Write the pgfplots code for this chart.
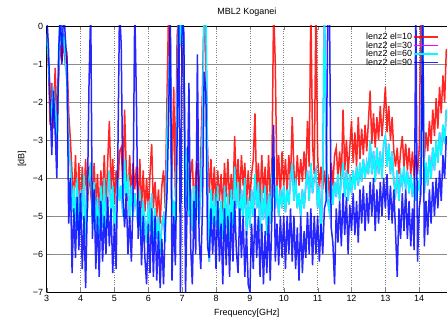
\documentclass[border=0pt]{standalone}
\usepackage{fontspec}
\setmainfont{Liberation Sans}
\usepackage{pgfplots}
\usepackage{pgfplotstable}
\pgfplotsset{compat=1.18}
\usetikzlibrary{calc}
\definecolor{gred}{rgb}{1,0,0}
\definecolor{gmag}{rgb}{1,0,1}
\definecolor{gcyan}{rgb}{0,1,1}
\definecolor{gblue}{rgb}{0,0,1}

\pgfplotstableread{
x r c b
3.00 -0.6 -0.2 0.3
3.05 -1.0 -0.9 -0.5
3.10 -2.6 -1.8 -2.0
3.15 -1.5 -2.5 -3.4
3.20 -2.7 -1.6 -1.7
3.25 -1.1 -2.2 -2.8
3.30 -2.5 -3.0 -4.0
3.35 -1.4 -1.2 -0.8
3.40 -0.5 0.3 0.5
3.45 -0.9 -0.6 -1.0
3.50 -0.4 -0.2 0.5
3.55 -1.0 -0.8 -0.3
3.60 -0.8 -1.5 -1.0
3.65 -2.3 -3.3 -5.2
3.70 -3.0 -3.6 -4.0
3.75 -3.9 -4.9 -6.5
3.80 -4.6 -4.2 -4.8
3.85 -3.4 -5.3 -6.1
3.90 -4.8 -4.0 -4.5
3.95 -3.6 -5.5 -5.9
4.00 -5.0 -4.3 -4.4
4.05 -3.7 -5.1 -6.4
4.10 -4.5 -3.9 -5.0
4.15 -3.5 -5.6 -6.9
4.20 -4.9 -4.4 -4.7
4.25 -3.7 -4.0 -1.5
4.30 -4.4 -3.6 0.5
4.35 -4.9 -5.2 -5.6
4.40 -3.6 -4.1 -4.3
4.45 -4.7 -5.4 -6.4
4.50 -3.9 -4.5 -5.0
4.55 -5.0 -5.6 -6.6
4.60 -3.8 -4.2 -4.6
4.65 -4.6 -5.3 -6.2
4.70 -3.4 -4.0 -5.0
4.75 -4.8 -5.5 -6.0
4.80 -3.6 -4.4 -4.5
4.85 -2.5 -3.8 -5.8
4.90 -4.3 -5.0 -4.8
4.95 -3.5 -4.2 -6.5
5.00 -4.7 -5.4 -5.2
5.05 -3.8 -4.6 -6.4
5.10 -4.4 -4.0 -3.5
5.15 -3.3 -4.6 0.5
5.20 -3.2 -4.2 -0.5
5.25 -4.2 -5.0 -4.5
5.30 -2.2 -3.5 -5.3
5.35 -3.8 -4.6 -4.4
5.40 -4.6 -3.9 -6.0
5.45 -3.4 -5.2 -5.0
5.50 -4.5 -4.2 -6.2
5.55 -3.6 -5.0 -4.6
5.60 -4.3 -4.4 0.5
5.65 -3.7 -4.8 -2.0
5.70 -4.7 -5.3 -5.6
5.75 -3.5 -4.3 -4.6
5.80 -4.8 -5.5 -6.3
5.85 -3.8 -4.6 -5.0
5.90 -4.9 -5.2 -6.1
5.95 -4.0 -5.7 -6.8
6.00 -5.0 -4.6 -5.2
6.05 -3.9 -5.4 -6.5
6.10 -3.1 -4.4 -4.8
6.15 -4.8 -5.8 -6.6
6.20 -4.1 -4.8 -5.0
6.25 -5.0 -5.6 -6.7
6.30 -4.3 -5.0 -5.4
6.35 -5.2 -6.0 -6.9
6.40 -4.2 -5.2 -5.6
6.45 -3.8 -5.0 -6.8
6.50 -4.8 -5.7 -5.2
6.55 -2.0 -3.0 -4.5
6.60 0.5 -1.5 -2.5
6.65 -1.7 -0.5 0.5
6.70 -4.0 -5.0 -6.7
6.75 -1.6 -4.6 -5.0
6.80 -4.5 -5.4 -6.3
6.85 -0.3 -2.0 -3.0
6.90 0.5 0.5 0.5
6.95 -0.2 -0.5 -7.0
7.00 -0.8 0.5 0.5
7.05 -1.6 -0.5 -0.2
7.10 -4.2 -4.8 -7.0
7.15 -3.8 -3.2 -4.5
7.20 -4.5 -5.0 -1.5
7.25 -3.9 -4.3 -5.8
7.30 -3.5 -5.4 -6.8
7.35 -4.8 -4.2 -4.6
7.40 -3.9 -5.0 -6.0
7.45 -3.6 -4.2 -0.75
7.50 -4.6 -5.2 -5.6
7.55 -3.4 -4.2 -6.4
7.60 -1.6 -2.5 -4.8
7.65 0.5 0.5 -1.2
7.70 -1.0 0.5 -1.75
7.75 -3.3 -4.0 -5.8
7.80 -4.4 -6.2 -6.1
7.85 -3.5 -4.3 -4.8
7.90 -4.6 -5.2 -6.0
7.95 -3.7 -4.4 -5.0
8.00 -4.8 -5.3 -6.4
8.05 -3.8 -4.2 -4.6
8.10 -4.6 -5.5 -6.2
8.15 -3.9 -4.6 -5.2
8.20 -4.9 -5.6 -6.8
8.25 -3.6 -4.2 -4.8
8.30 -4.5 -5.3 -6.3
8.35 -3.5 -4.4 -5.0
8.40 -4.7 -5.6 -6.6
8.45 -3.9 -4.3 -4.9
8.50 -4.6 -5.3 -6.2
8.55 -2.9 -3.7 -4.6
8.60 -4.3 -4.8 -5.9
8.65 -3.5 -4.1 -6.5
8.70 -4.6 -5.3 -4.8
8.75 -3.4 -4.3 -6.1
8.80 -4.2 -5.0 -5.0
8.85 -3.6 -4.0 -6.6
8.90 -4.7 -5.5 -5.4
8.95 -3.8 -4.5 -6.8
9.00 -4.6 -5.3 -7.0
9.05 -3.9 -4.3 -5.2
9.10 -3.5 -5.0 -6.4
9.15 -2.3 -3.9 -4.8
9.20 -4.4 -4.8 -6.1
9.25 -3.6 -4.1 -5.0
9.30 -4.7 -5.4 -6.6
9.35 -3.4 -4.3 -5.2
9.40 -4.4 -5.1 -6.8
9.45 -3.7 -4.2 -5.4
9.50 -4.7 -5.5 -6.5
9.55 -3.4 -4.4 -5.0
9.60 -4.5 -5.2 -6.7
9.65 -3.7 -4.0 -5.0
9.70 0.5 -3.5 -2.6
9.75 -1.0 -4.8 -6.2
9.80 -4.3 -4.2 -5.2
9.85 -3.4 -5.0 -6.3
9.90 -4.5 -4.3 -5.0
9.95 -3.3 -4.8 -6.1
10.00 -4.2 -4.2 -5.0
10.05 -3.5 -4.9 -6.4
10.10 -4.4 -4.3 -5.0
10.15 -3.4 -4.7 -6.0
10.20 -4.1 -4.0 -4.8
10.25 -2.4 -3.6 -6.2
10.30 -3.8 -4.6 -5.0
10.35 -4.3 -4.0 -6.4
10.40 -3.4 -4.8 -5.3
10.45 -4.2 -4.4 -6.7
10.50 -3.5 -5.0 -5.0
10.55 -4.1 -4.3 -6.5
10.60 -3.3 -4.8 -5.4
10.65 -4.0 -4.2 -6.1
10.70 -2.5 -3.8 -4.9
10.75 -3.7 -4.6 -6.0
10.80 0.5 -3.6 -4.8
10.85 -3.1 -4.4 -6.3
10.90 -3.9 -4.0 -5.0
10.95 0.5 -3.8 -6.0
11.00 -3.4 -4.8 -5.0
11.05 -4.3 -4.2 -6.2
11.10 -3.7 -5.6 -5.2
11.15 -4.3 -4.0 -6.0
11.20 -3.8 0.5 -4.8
11.25 -4.4 -3.0 -4.6
11.30 -3.9 -4.6 0.5
11.35 -4.5 -4.9 0.5
11.40 -3.6 -4.1 -5.3
11.45 -4.2 -4.7 -5.7
11.50 -3.4 -4.1 -6.8
11.55 -3.2 -4.5 -4.8
11.60 -4.0 -3.9 -5.7
11.65 -3.3 -4.6 -4.6
11.70 -4.1 -4.0 -5.8
11.75 -2.2 -3.6 -4.4
11.80 -3.8 -4.5 -5.5
11.85 -3.0 -3.8 -4.5
11.90 -3.9 -4.6 -6.0
11.95 -3.2 -3.9 -4.7
12.00 -2.5 -4.4 -5.4
12.05 -3.6 -3.8 -4.4
12.10 -2.8 -4.3 -5.5
12.15 -3.7 -3.7 -4.6
12.20 -2.4 -4.2 -5.7
12.25 -3.5 -3.6 -4.3
12.30 -2.7 -4.1 -5.2
12.35 -3.4 -3.5 -4.2
12.40 -2.6 -4.0 -5.4
12.45 -3.3 -3.6 -4.4
12.50 -2.5 -3.9 -5.2
12.55 -1.7 -3.0 -4.1
12.60 -3.1 -3.9 -5.0
12.65 -2.3 -3.3 -4.0
12.70 -3.2 -4.1 -5.4
12.75 -2.4 -3.2 -4.3
12.80 -3.0 -3.9 -5.2
12.85 -2.1 -3.3 -4.1
12.90 -2.9 -4.0 -5.0
12.95 -2.3 -3.1 -4.0
13.00 -1.6 -2.9 -4.8
13.05 -2.8 -3.7 -3.9
13.10 -2.1 -3.1 -5.1
13.15 -3.0 -3.9 -4.2
13.20 -2.4 -3.3 -5.2
13.25 -3.3 -4.1 -4.3
13.30 -3.7 -4.4 -5.4
13.35 -3.2 -3.8 -6.6
13.40 -3.9 -4.6 -4.8
13.45 -3.3 -3.9 -5.6
13.50 -2.9 -4.2 -4.4
13.55 -3.7 -3.7 -5.4
13.60 -3.1 -4.3 -4.3
13.65 -3.8 -3.8 -5.6
13.70 -3.2 -4.4 -4.6
13.75 -3.9 -3.9 -5.8
13.80 -3.3 -4.5 -4.8
13.85 -4.0 -4.0 -5.9
13.90 -3.4 -4.6 0.5
13.95 -3.9 -4.1 -6.2
14.00 -3.2 -4.3 -4.8
14.05 0.5 -3.5 -4.4
14.10 -2.0 0.5 0.5
14.15 -3.5 -4.4 -5.8
14.20 -2.8 -3.6 -4.6
14.25 -3.3 -4.2 -5.5
14.30 -2.5 -3.4 -4.3
14.35 -3.1 -4.0 -5.2
14.40 -2.2 -3.2 -4.1
14.45 -2.9 -3.8 -5.0
14.50 -1.9 -3.0 -4.0
14.55 -2.7 -3.6 -4.8
14.60 -1.6 -2.8 -3.8
14.65 -2.3 -3.4 -4.6
14.70 -1.3 -2.6 -3.4
14.75 -2.0 -3.1 -4.0
14.80 -0.6 -2.2 -2.9
}\data

\begin{document}
\begin{tikzpicture}
\begin{axis}[
  name=ax,
  scale only axis,
  width=400.3bp, height=266bp,
  xmin=3, xmax=14.82, ymin=-7, ymax=0,
  axis x line=box, axis y line=left,
  axis line style={-, line width=0.9pt},
  xtick={3,...,14}, ytick={-7,...,0},
  yticklabels={−7,−6,−5,−4,−3,−2,−1,0},
  /pgf/number format/assume math mode=true,
  tick label style={font=\fontsize{9}{10}\selectfont},
  tick align=inside, major tick length=4bp,
  xmajorgrids, ymajorgrids,
  x grid style={dotted, black!50, line width=0.6pt},
  y grid style={black!45, line width=0.6pt},
  title={MBL2 Koganei},
  title style={font=\fontsize{9}{10}\selectfont},
  xlabel={Frequency[GHz]},
  ylabel={[dB]},
  label style={font=\fontsize{9}{10}\selectfont},
  no markers,
  legend plot pos=right,
  legend cell align=right,
  legend style={draw=none, fill=none, at={(0.9875,0.985)}, anchor=north east,
    font=\fontsize{9}{9}\selectfont, row sep=-1.5pt,
    nodes={inner sep=1bp}},
  legend image code/.code={\draw[#1, line width=1.6bp] (0bp,0bp) -- (24bp,0bp);},
]
\addplot[gred, line width=1.5bp, opacity=0.85] table[x=x, y=r] {\data};
\addlegendentry{lenz2 el=10}
\addplot[gmag, line width=1.5bp] table[x=x, y=c] {\data};
\addlegendentry{lenz2 el=30}
\addplot[gcyan, line width=1.5bp] table[x=x, y=c] {\data};
\addlegendentry{lenz2 el=60}
\addplot[gblue, line width=1.5bp, opacity=0.85] table[x=x, y=b] {\data};
\addlegendentry{lenz2 el=90}
\end{axis}
\pgfresetboundingbox
\path[use as bounding box] ($(ax.south west)+(-46.7bp,-28bp)$) rectangle ($(ax.north east)+(0bp,26bp)$);
\end{tikzpicture}
\end{document}
